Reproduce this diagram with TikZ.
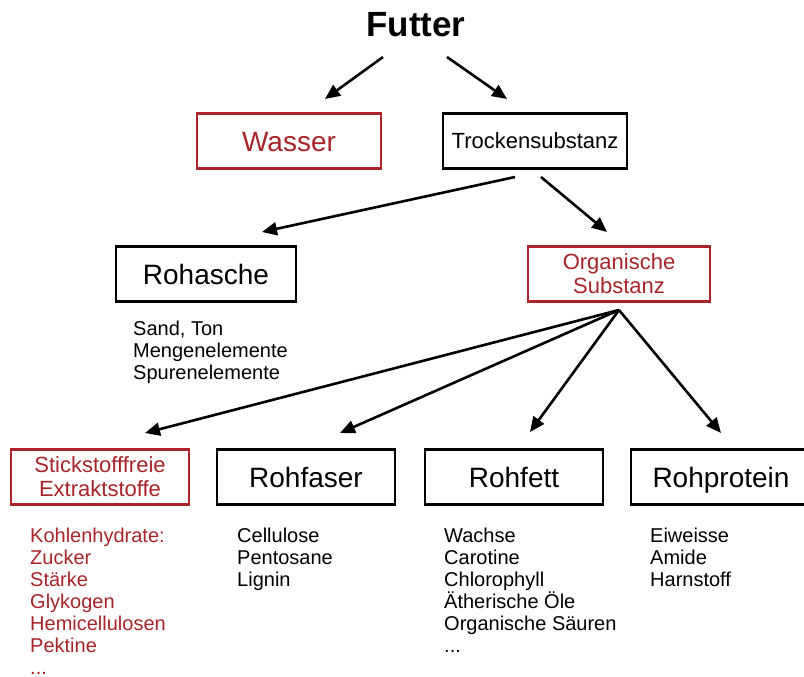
\documentclass[tikz,border=0pt]{standalone}
\usepackage{fontspec}
\setmainfont{Liberation Sans}
\usetikzlibrary{arrows.meta,positioning}
\definecolor{futterrot}{RGB}{168,36,40}

\begin{document}
\begin{tikzpicture}[x=1pt,y=-1pt,
  box/.style={draw,line width=2.6pt,minimum height=55pt,inner sep=0pt,align=center},
  rotbox/.style={box,draw=futterrot,text=futterrot},
  gross/.style={font=\fontsize{28}{30}\selectfont,text height=23pt,text depth=3pt},
  mittel/.style={font=\fontsize{22}{24}\selectfont},
  liste/.style={anchor=north west,inner sep=0pt,align=left,font=\fontsize{20}{22}\selectfont},
  pfeil/.style={line width=2.6pt,-{Triangle[length=15pt,width=13pt]}}]
\useasboundingbox (0,0) rectangle (804,677);
\node[font=\fontsize{35}{40}\selectfont\bfseries] (futter) at (416,25) {Futter};
\node[rotbox,gross,minimum width=184pt] (wasser) at (289,141) {Wasser};
\node[box,mittel,minimum width=184pt] (trocken) at (535,141) {Trockensubstanz};
\node[box,gross,minimum width=180pt] (rohasche) at (206,274) {Rohasche};
\node[rotbox,mittel,minimum width=182pt] (organisch) at (619,274) {Organische\\Substanz};
\node[rotbox,mittel,minimum width=178pt] (nfe) at (100,477) {Stickstofffreie\\Extraktstoffe};
\node[box,gross,minimum width=178pt] (rohfaser) at (306,477) {Rohfaser};
\node[box,gross,minimum width=178pt] (rohfett) at (514,477) {Rohfett};
\node[box,gross,minimum width=180pt] (rohprotein) at (721,477) {Rohprotein};
% Listen unter den Kaesten
\node[liste] (asche-liste) at (133,321) {Sand, Ton\\Mengenelemente\\Spurenelemente};
\node[liste,text=futterrot] (nfe-liste) at (30,528) {Kohlenhydrate:\\Zucker\\Stärke\\Glykogen\\Hemicellulosen\\Pektine\\...};
\node[liste] (faser-liste) at (237,528) {Cellulose\\Pentosane\\Lignin};
\node[liste] (fett-liste) at (444,528) {Wachse\\Carotine\\Chlorophyll\\Ätherische Öle\\Organische Säuren\\...};
\node[liste] (protein-liste) at (650,528) {Eiweisse\\Amide\\Harnstoff};
% Pfeile
\coordinate (f-l) at (383,57); \coordinate (f-r) at (447,57);
\coordinate (w-in) at (325,99); \coordinate (t-in) at (507,99);
\coordinate (t-l) at (515,177); \coordinate (t-r) at (541,177);
\coordinate (a-in) at (262,232); \coordinate (o-in) at (607,232);
\coordinate (o-out) at (619,310);
\coordinate (n-in) at (145,433); \coordinate (fa-in) at (340,433);
\coordinate (fe-in) at (530,432); \coordinate (p-in) at (721,433);
\draw[pfeil] (f-l) -- (w-in); \draw[pfeil] (f-r) -- (t-in);
\draw[pfeil] (t-l) -- (a-in); \draw[pfeil] (t-r) -- (o-in);
\draw[pfeil] (o-out) -- (n-in); \draw[pfeil] (o-out) -- (fa-in);
\draw[pfeil] (o-out) -- (fe-in); \draw[pfeil] (o-out) -- (p-in);
\end{tikzpicture}
\end{document}
